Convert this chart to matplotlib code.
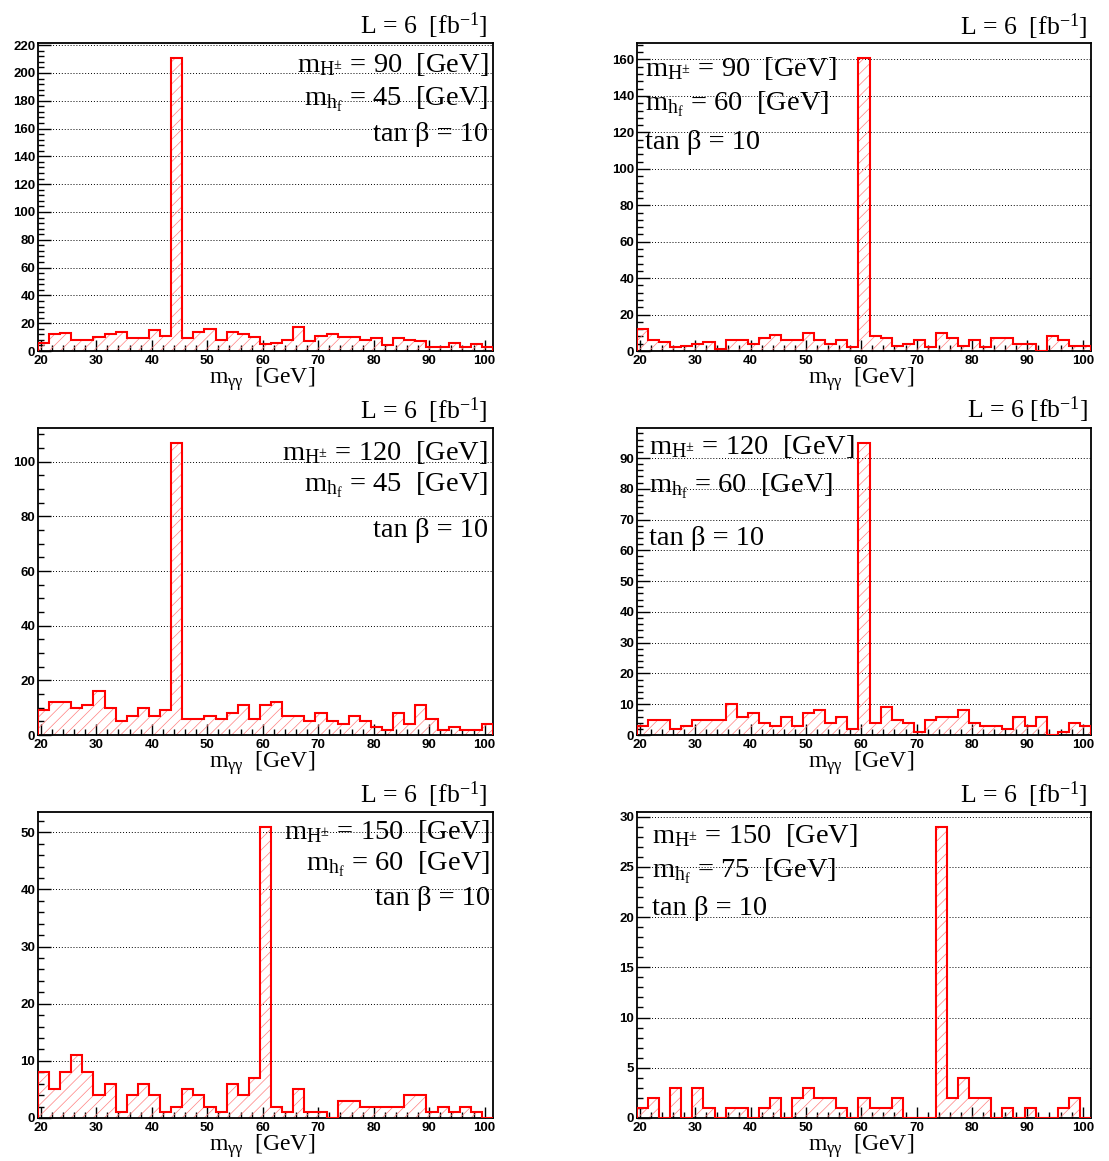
import matplotlib
matplotlib.use('Agg')
import matplotlib.pyplot as plt
import numpy as np
from matplotlib.ticker import MultipleLocator

plt.rcParams['mathtext.fontset'] = 'custom'
plt.rcParams['mathtext.rm'] = 'Liberation Serif'
plt.rcParams['mathtext.it'] = 'Liberation Serif:italic'
plt.rcParams['mathtext.bf'] = 'Liberation Serif:bold'
plt.rcParams['hatch.linewidth'] = 0.5

# ---------------- data ----------------
bin_edges = np.arange(19.5, 101.6, 2.0)   # 41 bins of 2 GeV
x_ticks = [20, 30, 40, 50, 60, 70, 80, 90, 100]

counts_mH90_mh45 = [6, 12, 13, 8, 8, 10, 12, 14, 9, 9, 15, 11, 211, 9, 14, 16, 8, 14, 12, 10,
                    5, 6, 8, 17, 7, 11, 12, 10, 10, 8, 9, 4, 9, 8, 7, 3, 3, 6, 3, 5, 3]
counts_mH90_mh60 = [12, 6, 5, 2, 3, 4, 5, 1, 6, 6, 4, 7, 9, 6, 6, 10, 6, 4, 6, 2, 161,
                    8, 7, 3, 4, 6, 2, 10, 7, 3, 6, 2, 7, 7, 4, 4, 0, 8, 6, 3, 3]
counts_mH120_mh45 = [9, 12, 12, 10, 11, 16, 10, 5, 7, 10, 7, 9, 107, 6, 6, 7, 6, 8, 11, 6,
                     11, 12, 7, 7, 5, 8, 5, 4, 7, 5, 3, 2, 8, 4, 11, 6, 2, 3, 2, 2, 4]
counts_mH120_mh60 = [3, 5, 5, 2, 3, 5, 5, 5, 10, 6, 7, 4, 3, 6, 3, 7, 8, 4, 6, 2, 95,
                     4, 9, 5, 4, 1, 5, 6, 6, 8, 4, 3, 3, 2, 6, 3, 6, 0, 1, 4, 3]
counts_mH150_mh60 = [8, 5, 8, 11, 8, 4, 6, 1, 4, 6, 4, 1, 2, 5, 4, 2, 1, 6, 4, 7, 51,
                     2, 1, 5, 1, 1, 0, 3, 3, 2, 2, 2, 2, 4, 4, 1, 2, 1, 2, 1, 0]
counts_mH150_mh75 = [1, 2, 0, 3, 0, 3, 1, 0, 1, 1, 0, 1, 2, 0, 2, 3, 2, 2, 1, 0, 2,
                     1, 1, 2, 0, 0, 0, 29, 2, 4, 2, 2, 0, 1, 0, 1, 0, 0, 1, 2, 0]

mH_values = [90, 90, 120, 120, 150, 150]
mh_values = [45, 60, 45, 60, 60, 75]
tanb = 10
lumi = 6
all_counts = [counts_mH90_mh45, counts_mH90_mh60, counts_mH120_mh45,
              counts_mH120_mh60, counts_mH150_mh60, counts_mH150_mh75]

# ---------------- layout (pixels) ----------------
W, H = 1109, 1161
fig = plt.figure(figsize=(W / 100, H / 100), dpi=100)

cols = [(38, 493), (637, 1091)]
rows = [(43, 351), (428, 735), (812, 1118)]
y_major = [20, 20, 20, 10, 10, 5]
y_minor = [4, 4, 5, 2, 2, 1]
text_layout = [
    ('right', 488, (72, 105, 141), 34, '  '),
    ('left', 645, (76, 110, 149), 35, '  '),
    ('right', 488, (460, 491, 537), 419, '  '),
    ('left', 649, (454, 492, 545), 418, ' '),
    ('right', 490, (839, 870, 905), 803, '  '),
    ('left', 652, (843, 877, 915), 803, '  '),
]

def fx(x):
    return x / W

def fy(y):
    return 1 - y / H

serif = 'Liberation Serif'
for i, counts in enumerate(all_counts):
    r, c = divmod(i, 2)
    x0, x1 = cols[c]
    y0, y1 = rows[r]
    ax = fig.add_axes([fx(x0), fy(y1), (x1 - x0) / W, (y1 - y0) / H])
    ax.set_xlim(bin_edges[0], bin_edges[-1])
    ax.set_ylim(0, max(counts) * 1.05)
    ax.stairs(counts, bin_edges, fill=True, facecolor='none', edgecolor='#ff8080',
              hatch='///', linewidth=0, zorder=2)
    ax.stairs(counts, bin_edges, color='red', linewidth=1.5, baseline=0, zorder=3)
    ax.set_axisbelow(True)
    ax.yaxis.grid(True, which='major', linestyle=(0, (1, 2)), color='black', linewidth=0.7)
    ax.set_xticks(x_ticks)
    ax.xaxis.set_minor_locator(MultipleLocator(2))
    ax.yaxis.set_major_locator(MultipleLocator(y_major[i]))
    ax.yaxis.set_minor_locator(MultipleLocator(y_minor[i]))
    ax.tick_params(which='both', direction='in', top=False, right=False, width=1)
    ax.tick_params(axis='y', which='major', length=9, pad=2)
    ax.tick_params(axis='y', which='minor', length=4.5)
    ax.tick_params(axis='x', which='major', length=8, pad=3)
    ax.tick_params(axis='x', which='minor', length=4)
    for lab in ax.get_xticklabels() + ax.get_yticklabels():
        lab.set_fontfamily('Liberation Sans')
        lab.set_fontweight('bold')
        lab.set_fontsize(9.5)
    for sp in ax.spines.values():
        sp.set_linewidth(1.3)

    # x axis title
    fig.text(fx((x0 + x1) / 2 - 3), fy(y1 + 33), r'$\mathrm{m_{γγ}}$  [GeV]',
             ha='center', va='baseline', fontsize=17, family=serif)

    align, tx, bls, lb, sp_ = text_layout[i]
    lx = 1088 if c == 1 else 488
    fig.text(fx(lx), fy(lb), 'L = %d%s[fb$\\mathrm{^{-1}}$]' % (lumi, sp_),
             ha='right', va='baseline', fontsize=18.5, family=serif)
    lines = [r'$\mathrm{m_{H^{\pm}}}$ = %d  [GeV]' % mH_values[i],
             r'$\mathrm{m_{h_{f}}}$ = %d  [GeV]' % mh_values[i],
             'tan β = %d' % tanb]
    for txt, bl in zip(lines, bls):
        fig.text(fx(tx), fy(bl), txt, ha=align, va='baseline', fontsize=20.5, family=serif)

fig.savefig('out.png', dpi=100)
